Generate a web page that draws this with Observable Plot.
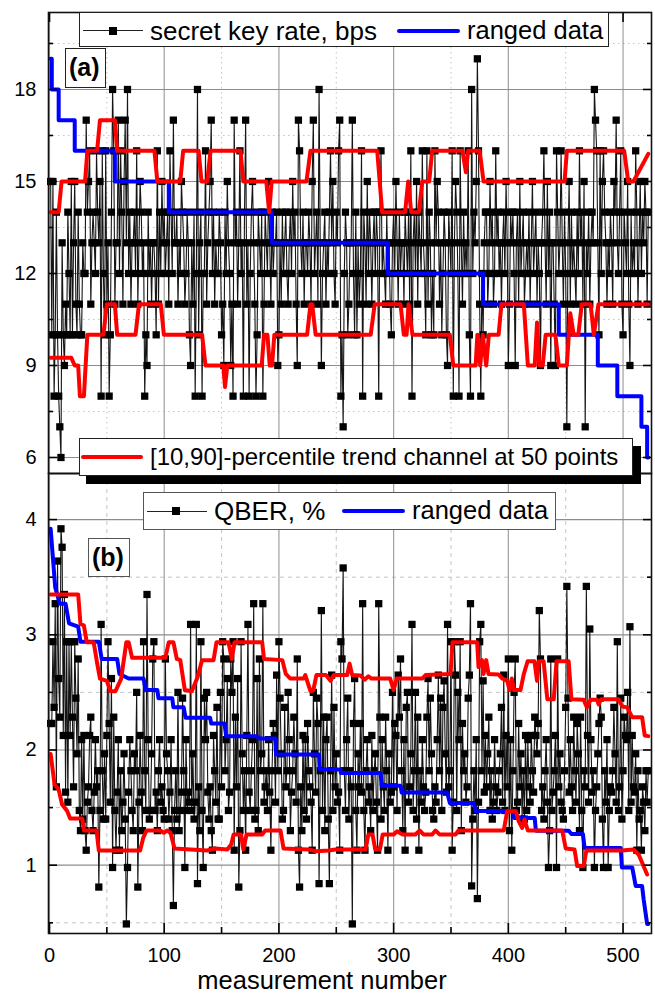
<!DOCTYPE html>
<html><head><meta charset="utf-8">
<script src="https://cdn.jsdelivr.net/npm/d3@7"></script>
<script src="https://cdn.jsdelivr.net/npm/@observablehq/plot@0.6"></script>
<style>
html,body{margin:0;padding:0;background:#fff}
#page{position:relative;width:655px;height:994px;overflow:hidden;font-family:"Liberation Sans",Arial,sans-serif;color:#000}
#page svg{position:absolute;left:0;background:transparent;max-width:none}
.box{position:absolute;background:#fff;box-sizing:border-box;border:1.5px solid #222}
.t{position:absolute;white-space:nowrap;line-height:1;font-size:25.5px}
.ln{position:absolute}
.sq{position:absolute;width:8px;height:8px;background:#000}
</style></head><body><div id="page"></div>
<script>
// measurement number 1..522, row by row (10 per row)
const rateValues = [
15,10,15,8,10,14,10,8,7,6,
13,10,9,11,10,14,12,10,15,10,
13,15,11,10,14,11,10,10,13,12,
12,17,14,15,16,11,13,14,13,12,
16,14,13,15,8,16,12,10,16,11,
13,8,10,14,18,16,11,13,13,17,
12,16,14,11,15,17,13,18,12,14,
11,13,13,14,12,16,11,13,15,14,
12,13,8,10,9,14,12,13,11,13,
13,12,10,16,11,14,12,15,13,14,
12,13,14,11,16,14,12,17,13,13,
14,11,13,12,15,14,13,11,12,14,
13,10,9,13,11,14,8,12,18,10,
13,14,8,12,12,16,11,13,14,15,
17,12,14,11,13,12,12,14,13,10,
11,9,14,12,15,13,12,9,11,8,
17,13,14,11,13,16,12,13,8,14,
17,11,13,8,12,14,15,13,11,8,
10,14,13,12,14,8,11,14,13,12,
15,13,11,14,12,13,13,14,9,10,
13,11,14,12,13,14,12,11,13,14,
12,15,13,14,11,9,17,16,13,12,
14,11,13,13,12,14,13,11,15,17,
12,13,14,11,18,13,9,12,13,14,
11,13,12,14,16,13,15,12,11,14,
13,16,17,8,10,7,12,14,13,10,
11,13,13,17,12,10,14,10,13,11,
12,16,8,14,13,11,15,12,14,13,
11,13,14,12,14,13,8,14,16,12,
13,12,11,14,12,13,11,10,13,14,
12,15,13,11,14,12,13,13,11,14,
13,12,14,11,16,8,13,14,12,15,
11,14,13,12,16,13,12,10,16,11,
14,13,10,12,10,16,13,15,14,11,
13,10,12,14,13,10,9,14,13,12,
16,8,13,15,14,12,8,16,13,11,
14,12,13,12,16,10,8,18,12,14,
13,15,19,16,11,8,12,10,13,14,
14,11,12,15,13,14,11,12,16,13,
14,12,13,11,13,14,12,15,13,9,
11,14,13,14,12,9,13,14,11,15,
12,13,14,11,12,13,12,14,11,13,
15,12,13,14,11,13,12,9,13,14,
16,13,11,15,12,14,9,13,13,11,
9,16,14,12,13,16,13,11,14,12,
7,13,15,11,14,12,13,12,11,14,
12,16,13,14,11,15,7,13,12,14,
11,13,14,13,18,17,16,13,10,16,
12,15,16,14,13,11,13,12,14,13,
11,15,14,17,13,12,14,16,11,10,
14,13,12,15,11,9,14,12,13,12,
16,14,11,13,15,12,14,13,15,14,11,14];
const qberValues = [
2.23,2.23,2.94,2.37,3.27,1.68,3.64,2.62,2.285,3.92,
3.76,2.126,3.35,1.634,2.94,1.547,2.94,2.126,2.94,2.285,
1.68,2.94,2.45,1.967,2.79,1.475,1.30,2.09,1.40,2.126,
1.30,1.13,1.547,1.68,2.126,2.285,1.475,1.30,1.634,2.09,
1.68,1.82,0.81,1.475,3.09,1.82,1.40,1.967,1.40,2.126,
2.94,2.23,1.547,2.62,0.98,2.285,1.475,1.13,1.634,2.09,
1.13,1.82,1.30,1.547,1.967,1.40,0.49,0.98,1.634,2.09,
1.82,1.475,1.30,1.967,1.82,2.5,0.81,1.547,2.126,1.634,
1.30,2.94,1.82,1.475,3.35,2.09,1.40,1.475,1.967,2.79,
2.94,1.475,1.634,1.30,1.82,2.09,1.547,1.68,1.475,1.40,
2.79,1.967,1.82,1.40,1.634,2.09,1.30,0.65,1.475,1.82,
1.40,2.5,1.30,1.475,1.634,2.45,1.82,0.98,2.09,1.475,
1.634,1.547,3.09,1.475,1.967,1.40,1.547,3.09,0.84,1.68,
1.30,2.94,1.475,0.98,2.45,2.09,2.5,1.634,1.40,1.68,
1.30,1.13,2.126,1.82,1.547,2.37,1.40,1.40,2.5,1.68,
2.94,2.79,1.82,2.09,2.62,1.475,1.634,2.79,2.5,2.94,
1.13,2.285,1.68,2.62,0.81,1.30,2.94,1.967,1.475,1.82,
1.13,2.126,3.09,1.634,1.475,1.82,2.09,3.27,1.40,1.475,
2.62,1.30,2.79,1.82,1.967,3.27,1.547,1.68,1.82,1.475,
2.09,1.634,1.13,1.82,2.23,2.126,1.547,2.65,1.82,2.94,
2.45,1.967,1.40,1.475,2.37,1.68,1.82,2.5,2.09,1.30,
1.634,1.82,2.285,1.967,1.547,2.79,1.13,0.81,1.68,1.30,
2.126,1.475,2.09,1.40,2.23,1.82,1.68,1.547,1.13,2.5,
1.967,1.634,2.45,2.23,0.84,1.82,3.21,1.475,2.285,1.30,
2.09,2.285,1.40,0.84,1.82,2.65,1.475,2.37,1.68,1.967,
1.547,1.634,1.13,2.94,2.79,3.58,1.82,1.475,2.09,2.45,
1.40,1.82,1.68,0.49,2.23,2.62,1.475,1.13,1.967,1.68,
2.23,1.634,3.27,1.475,1.13,1.82,2.09,1.547,1.68,1.30,
2.126,1.475,1.82,1.967,1.547,1.13,3.27,2.285,1.40,2.09,
1.68,1.475,2.285,1.82,1.13,1.967,1.547,1.634,2.5,1.68,
2.23,2.126,1.475,2.65,2.285,2.79,1.82,1.30,2.09,1.13,
2.37,2.5,1.547,1.68,1.967,3.09,1.475,1.82,2.5,1.40,
2.285,1.13,1.82,1.547,2.09,1.68,1.475,1.634,2.285,2.62,
1.82,2.45,1.967,1.475,1.40,1.68,1.547,2.09,2.65,1.82,
2.45,1.475,2.37,2.6,1.967,1.634,3.09,1.68,1.82,2.94,
1.13,1.547,2.94,2.65,1.475,2.5,2.09,2.94,1.30,2.23,
1.82,1.967,1.547,1.68,2.45,2.65,3.27,0.82,1.40,1.82,
1.475,2.09,0.71,1.547,2.94,3.09,1.82,2.6,1.634,2.126,
1.68,1.967,2.285,1.475,1.82,1.40,1.547,2.09,1.68,1.475,
1.634,1.82,1.967,2.37,1.547,2.65,1.475,2.126,1.68,2.79,
1.30,2.09,1.13,1.82,2.5,2.79,1.475,1.547,2.23,1.68,
1.967,1.40,1.82,1.40,2.126,1.475,2.09,1.68,1.547,2.126,
1.82,1.634,2.285,2.126,1.967,2.23,3.21,2.79,1.475,1.68,
1.40,1.82,2.09,1.547,0.98,1.30,2.79,1.475,1.634,1.82,
2.126,0.98,2.79,1.68,1.967,1.547,1.475,1.40,1.82,2.37,
3.42,2.45,1.634,2.09,1.68,1.475,2.285,1.82,1.547,2.23,
1.967,1.30,2.285,1.475,0.98,1.82,1.68,3.42,2.126,1.547,
3.05,2.09,1.634,1.82,0.98,1.475,1.68,1.967,2.23,2.45,
2.285,1.40,0.98,1.82,1.547,2.09,0.98,1.475,1.68,1.634,
1.82,2.37,1.967,1.547,2.94,1.475,1.68,2.45,1.40,1.82,
2.285,2.126,2.09,2.5,1.475,3.07,1.547,2.126,1.68,1.634,
1.967,1.13,1.82,1.40,1.475,1.13,1.68,1.547,1.30,1.82,1.547,1.82];

const rangedRate = [[1,19],[2,18],[8,17],[22,16],[57,15],[104,14],[194,13],[295,12],[378,11],[444,10],[478,9],[495,8],[516,7],[521,6],[522,6]];
const rangedQber = [[1,3.92],[5,3.41],[9,3.27],[14,3.27],[17,3.1],[25,3.07],[27,2.94],[43,2.94],[45.5,2.79],[59,2.79],[61,2.66],[69,2.62],[82,2.62],[83.8,2.52],[94,2.52],[95,2.45],[107,2.45],[108,2.37],[117,2.37],[118.6,2.28],[140,2.28],[141,2.23],[152.6,2.23],[154,2.12],[181,2.12],[183,2.1],[197,2.1],[197.5,1.96],[235,1.96],[235.7,1.83],[253.7,1.83],[254,1.8],[288.6,1.8],[289.5,1.69],[306,1.69],[307,1.63],[346.7,1.63],[349,1.54],[370,1.54],[371.4,1.47],[404.5,1.47],[405,1.41],[423,1.41],[424,1.3],[452.6,1.3],[455,1.27],[465,1.27],[466.5,1.15],[498,1.15],[499,0.98],[508,0.98],[511,0.82],[516.6,0.82],[518,0.7],[521,0.49],[522,0.49]];

const upperRate = [[1,14],[8,14],[10.5,15],[31,15],[33,16],[41.5,16],[44,17],[57,17],[59,16],[91.5,16],[94,15],[114,15],[116.5,16],[130,16],[132.5,15],[137.5,15],[140.4,16],[166.5,16],[169,15],[189,15],[191.5,14],[193.7,15],[224,15],[227.5,16],[285.7,16],[290,14],[310,14],[312.7,15],[315.3,14],[322,14],[325,15],[331,15],[333.6,16],[360,16],[363,15.3],[365,16],[375,16],[378.4,15],[449,15],[451,16],[501,16],[504.5,15],[509,15],[522,15.9]];
const lowerRate = [[1,9.25],[19,9.25],[22,9],[25,9],[26.5,8],[30,8],[33,10],[47,10],[50,11],[57,11],[59,10],[75,10],[78,11],[97,11],[99.7,10],[133,10],[136,9],[151.5,9],[153,8.3],[155,9],[185,9],[187,10],[190,10],[192,9],[194,9],[196,10],[224.6,10],[227.5,11],[229,11],[232,10],[280,10],[283.5,11],[306,11],[308.9,10],[311.3,10],[313,11],[316.4,10],[349,10],[352,9],[371.5,9],[373,10],[375.5,9],[377.7,10],[380.7,9],[383,10],[391.5,10],[394,11],[413.5,11],[417,9],[423,9],[425,10.4],[427,9],[430,9],[432.5,10],[441,10],[444,9],[451,9],[454,10.7],[457,10],[461,10],[464,11],[471.7,11],[474.5,10],[478.6,11],[522,11]];
const upperQber = [[1,3.35],[25,3.35],[27,3.095],[30,3.08],[32.5,2.936],[38.5,2.936],[41.6,2.75],[44,2.62],[50,2.6],[53,2.51],[57.5,2.51],[62.5,2.62],[67,2.936],[69,2.936],[72,2.8],[101,2.8],[104,2.936],[108,2.936],[111,2.79],[114,2.78],[118,2.52],[124,2.51],[129,2.63],[133,2.78],[143,2.78],[145.6,2.936],[156,2.936],[159,2.79],[161.3,2.936],[185.4,2.936],[187,2.79],[203,2.78],[206,2.66],[210,2.62],[221.6,2.62],[223,2.65],[227.5,2.51],[230,2.52],[232.7,2.65],[241,2.65],[245,2.6],[247.8,2.65],[259.5,2.65],[261.6,2.75],[263.9,2.65],[271,2.647],[274.7,2.61],[278,2.64],[280.7,2.62],[297,2.62],[300,2.52],[302.6,2.62],[324.9,2.62],[327.8,2.65],[349.6,2.66],[351.4,2.936],[372.8,2.936],[374,2.72],[377,2.78],[378.4,2.66],[380.7,2.78],[382.7,2.66],[391.5,2.655],[394.7,2.62],[399,2.6],[401,2.52],[403,2.62],[404.9,2.52],[410.6,2.52],[413.5,2.66],[416.8,2.77],[422.8,2.77],[425,2.6],[426.6,2.77],[430.7,2.77],[434,2.44],[439.6,2.44],[442,2.77],[452.6,2.77],[455,2.44],[465.6,2.436],[468.5,2.37],[471.7,2.436],[477.4,2.436],[478.7,2.395],[480.9,2.44],[496,2.44],[499.3,2.378],[503.6,2.37],[507.9,2.285],[516.6,2.285],[518.9,2.126],[522,2.12]];
const lowerQber = [[1,1.966],[4.4,1.7],[8,1.657],[11,1.527],[15.4,1.47],[18,1.405],[28.5,1.405],[30,1.301],[41,1.301],[43,1.127],[79,1.127],[81.7,1.237],[84.6,1.301],[96.8,1.301],[99.6,1.281],[102.6,1.301],[105.5,1.281],[109,1.145],[137.5,1.127],[144.7,1.145],[155,1.136],[158.4,1.18],[160.5,1.267],[167,1.267],[169,1.136],[171.8,1.267],[185.4,1.267],[188,1.301],[201.4,1.301],[204,1.145],[226,1.136],[232,1.122],[243.6,1.127],[249.3,1.136],[275.5,1.136],[278,1.267],[281.6,1.267],[284,1.136],[288,1.136],[290.5,1.267],[300,1.267],[303,1.295],[307.5,1.267],[319,1.267],[322.7,1.301],[326,1.267],[333.6,1.267],[336.5,1.301],[340,1.267],[354,1.267],[356.6,1.301],[396,1.301],[399,1.469],[406.6,1.469],[409,1.382],[412,1.324],[414,1.397],[417,1.301],[447,1.301],[450,1.145],[457.7,1.136],[460,0.992],[465.7,0.992],[468,1.127],[499,1.127],[509,1.136],[513.6,1.093],[521,0.919]];

const xMajor = [0,100,200,300,400,500];
const xMinor = [50,150,250,350,450];
const rateMajor = [6,9,12,15,18];
const rateMinor = [7.5,10.5,13.5,16.5,19.5];
const qberMajor = [1,2,3,4];
const qberMinor = [0.5,1.5,2.5,3.5];

const FONT = '"Liberation Sans",Arial,sans-serif';
const page = document.getElementById("page");
const X = {domain:[-0.87,524.8]};
const blank = () => "";

function panel({values, ranged, upper, lower, yDomain, yMajor, yMinor, height, marginTop, marginBottom, minorDash, top, topTicks, bottomAxis}) {
  const rows = values.map((v,i)=>({n:i+1,v}));
  const marks = [
    Plot.gridX(xMinor,{stroke:"#c4c4c4",strokeOpacity:1,strokeDasharray:minorDash}),
    Plot.gridY(yMinor,{stroke:"#c4c4c4",strokeOpacity:1,strokeDasharray:minorDash}),
    Plot.gridX(xMajor,{stroke:"#a0a0a0",strokeOpacity:1,strokeWidth:1.2}),
    Plot.gridY(yMajor,{stroke:"#8c8c8c",strokeOpacity:1,strokeWidth:1.2}),
    Plot.line(rows,{x:"n",y:"v",stroke:"#151515",strokeWidth:1.1}),
    Plot.dot(rows,{x:"n",y:"v",symbol:"square",r:4.1,fill:"#000",stroke:"none"}),
    Plot.line(ranged,{x:"0",y:"1",stroke:"#0000ff",strokeWidth:4,curve:top===0?"step-after":"linear",strokeLinejoin:"round"}),
    Plot.line(upper,{x:"0",y:"1",stroke:"#ff0000",strokeWidth:4,strokeLinejoin:"round"}),
    Plot.line(lower,{x:"0",y:"1",stroke:"#ff0000",strokeWidth:4,strokeLinejoin:"round"}),
    Plot.axisY(yMajor,{anchor:"left",label:null,tickSize:-9,tickPadding:21,tickFormat:"d",fontSize:20,strokeWidth:1.6,stroke:"#000"}),
    Plot.axisY(yMinor,{anchor:"left",label:null,tickSize:-5,tickFormat:blank,strokeWidth:1.6,stroke:"#000"}),
    Plot.axisY(yMajor,{anchor:"right",label:null,tickSize:-9,tickFormat:blank,strokeWidth:1.6,stroke:"#000"}),
    Plot.axisY(yMinor,{anchor:"right",label:null,tickSize:-5,tickFormat:blank,strokeWidth:1.6,stroke:"#000"})
  ];
  if (topTicks) marks.push(
    Plot.axisX(xMajor,{anchor:"top",label:null,tickSize:-9,tickFormat:blank,strokeWidth:1.6,stroke:"#000"}),
    Plot.axisX(xMinor,{anchor:"top",label:null,tickSize:-5,tickFormat:blank,strokeWidth:1.6,stroke:"#000"})
  );
  if (bottomAxis) marks.push(
    Plot.axisX(xMajor,{anchor:"bottom",label:null,tickSize:-10,tickPadding:24,fontSize:20,strokeWidth:1.6,stroke:"#000"}),
    Plot.axisX(xMinor,{anchor:"bottom",label:null,tickSize:-6,tickFormat:blank,strokeWidth:1.6,stroke:"#000"}),
    Plot.text(["measurement number"],{frameAnchor:"bottom",dx:-28,dy:55,fontSize:25.5,fill:"#000",text:d=>d})
  );
  marks.push(Plot.frame({stroke:"#111",strokeWidth:1.6}));
  const svg = Plot.plot({
    width:655,height,marginLeft:48,marginRight:4,marginTop,marginBottom,
    x:X,y:{domain:yDomain},
    style:{fontFamily:FONT,color:"#000",background:"transparent",overflow:"visible"},
    marks
  });
  svg.style.top = top+"px";
  page.appendChild(svg);
}

panel({values:rateValues,ranged:rangedRate,upper:upperRate,lower:lowerRate,yDomain:[5.478,20.51],yMajor:rateMajor,yMinor:rateMinor,height:473,marginTop:12,marginBottom:0,minorDash:"1.5,3.5",top:0,topTicks:true,bottomAxis:false});
panel({values:qberValues,ranged:rangedQber,upper:upperQber,lower:lowerQber,yDomain:[0.407,4.40],yMajor:qberMajor,yMinor:qberMinor,height:521,marginTop:0,marginBottom:61,minorDash:"4,4",top:473,topTicks:false,bottomAxis:true});

// legends
function el(cls,css,text){const d=document.createElement("div");d.className=cls;Object.assign(d.style,css);if(text)d.textContent=text;page.appendChild(d);return d;}
function px(o){const r={};for(const k in o)r[k]=typeof o[k]==="number"?o[k]+"px":o[k];return r;}
function box(x0,y0,x1,y1,extra){return el("box",px({left:x0,top:y0,width:x1-x0,height:y1-y0,...extra}));}
function line(x0,x1,y,w,c){return el("ln",px({left:x0,top:y-w/2,width:x1-x0,height:w,background:c,borderRadius:w>2?"2px":"0"}));}
function sq(x,y){return el("sq",px({left:x-4,top:y-4}));}
function txt(x,y,s,extra){return el("t",px({left:x,top:y-13,...(extra||{})}),s);}

box(79,12,609,47);
line(83,143,30.5,1,"#222");sq(113,30.5);txt(150,31,"secret key rate, bps",{fontSize:26});
line(397,460,31,4,"#0000ff");txt(467,31,"ranged data");

box(65,48,106,88);
txt(69,68,"(a)",{fontWeight:"bold",fontSize:25,top:55});

// shadow then box for the long legend
el("ln",px({left:86,top:446,width:555,height:38,background:"#000"}));
box(79,438,633,476);
line(81,143,457,4,"#ff0000");txt(150,457,"[10,90]-percentile trend channel at 50 points",{fontSize:24,top:445});

box(143,492,556,530,{borderColor:"#555"});
line(146.5,207,511,1,"#222");sq(176,511);txt(214,511,"QBER, %",{fontSize:26});
line(342,405,511,4,"#0000ff");txt(412,511,"ranged data");

box(88,538,130,577,{borderColor:"#555"});
txt(92,558,"(b)",{fontWeight:"bold",fontSize:25,top:545});
</script></body></html>
